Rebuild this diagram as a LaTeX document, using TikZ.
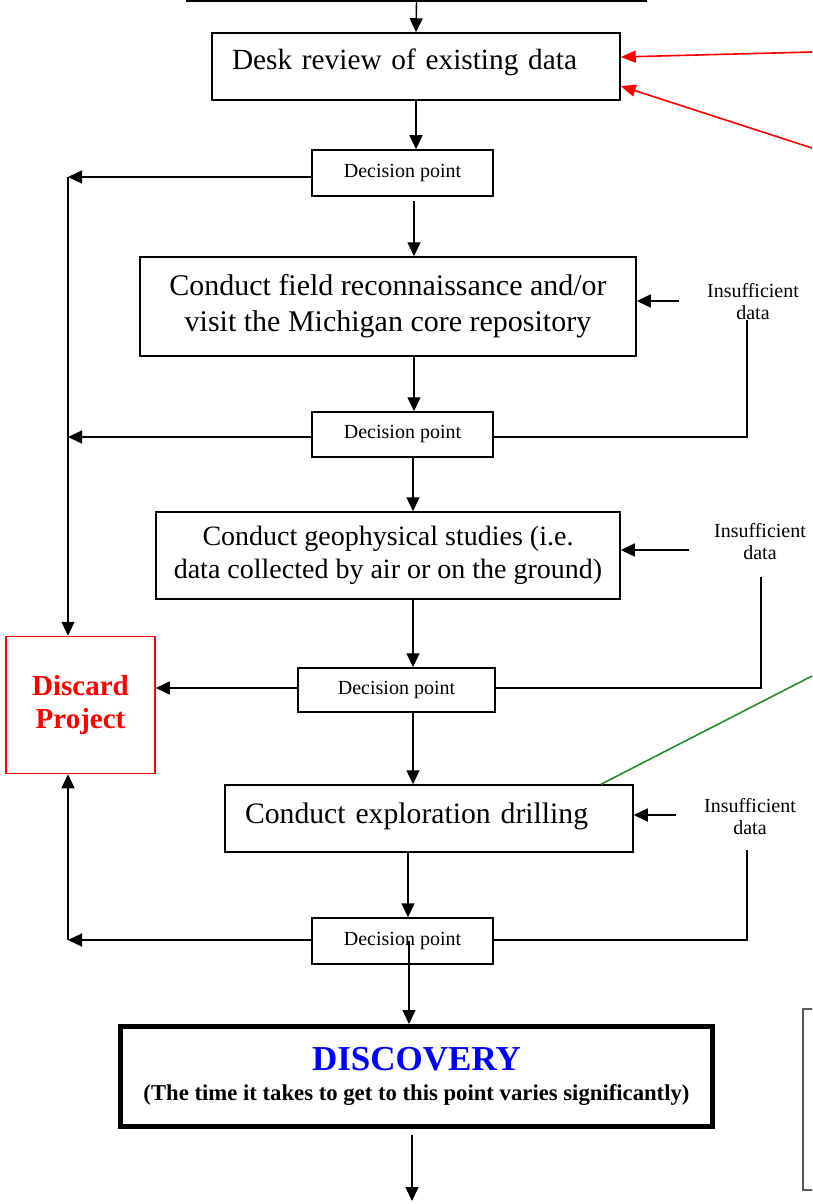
\documentclass[tikz,border=0pt]{standalone}
\usepackage{fontspec}
\setmainfont{Liberation Serif}
\usetikzlibrary{arrows.meta}
\definecolor{dgreen}{RGB}{40,140,40}
\begin{document}
\begin{tikzpicture}[x=1pt,y=-1pt,
  box/.style={draw=black, line width=1.5pt, inner sep=0pt, rectangle},
  dpoint/.style={box, font=\fontsize{20}{24}\selectfont},
  conn/.style={draw=black, line width=1.4pt},
  arr/.style={conn, -{Triangle[length=14pt,width=13pt]}},
  redarr/.style={draw=red, line width=1.6pt, -{Triangle[length=15pt,width=12pt]}},
  insuf/.style={align=center, inner sep=0pt, font=\fontsize{20}{22}\selectfont},
]
\useasboundingbox (0,0) rectangle (812,1204);
\clip (0,0) rectangle (812,1204);

% boxes
\node[box, minimum width=459pt, minimum height=62pt] (topbox) at (416.5,-30) {};
\node[box, minimum width=408pt, minimum height=67pt, text width=368pt, inner xsep=20pt,
      align=left, text height=20.5pt, text depth=13.5pt, font=\fontsize{29.3}{36}\selectfont]
      (desk) at (416,66.5) {Desk review of existing data};
\node[dpoint, minimum width=181pt, minimum height=46pt] (dec1) at (402.5,173) {Decision point};
\node[box, minimum width=496pt, minimum height=99pt, align=center, font=\fontsize{30}{36}\selectfont]
      (field) at (388,306.5) {Conduct field reconnaissance and/or\\visit the Michigan core repository};
\node[dpoint, minimum width=181pt, minimum height=45pt] (dec2) at (402.5,434.5) {Decision point};
\node[box, minimum width=464pt, minimum height=87pt, align=center, font=\fontsize{28}{33}\selectfont]
      (geo) at (388,555.5) {Conduct geophysical studies (i.e.\\data collected by air or on the ground)};
\node[dpoint, minimum width=197pt, minimum height=44pt] (dec3) at (396.5,690) {Decision point};
\node[box, draw=red, minimum width=149pt, minimum height=137pt, align=center, text=red,
      font=\fontsize{29}{33}\selectfont\bfseries] (discard) at (80.5,705) {Discard\\Project};
\node[box, minimum width=408pt, minimum height=67pt, text width=368pt, inner xsep=20pt,
      align=left, text height=20.5pt, text depth=11.5pt, font=\fontsize{29.7}{36}\selectfont]
      (expl) at (429,818.5) {Conduct exploration drilling};
\node[dpoint, minimum width=181pt, minimum height=46pt] (dec4) at (402.5,941) {Decision point};
\node[box, line width=5pt, minimum width=592pt, minimum height=100pt, align=center,
      font=\fontsize{22.7}{30}\selectfont\bfseries] (disc) at (416.5,1076.5)
      {{\fontsize{35}{35}\selectfont\color{blue}DISCOVERY}\\(The time it takes to get to this point varies significantly)};
\node[draw=gray!70!black, line width=1.2pt, inner sep=0pt, minimum width=97pt, minimum height=181pt] (rbox) at (851.5,1099.5) {};

% labels
\node[insuf] (ins1) at (753,302) {Insufficient\\data};
\node[insuf] (ins2) at (760,542) {Insufficient\\data};
\node[insuf] (ins3) at (750,817) {Insufficient\\data};

% coordinates
\coordinate (cA) at (414,0);
\coordinate (cB) at (413,0);
\coordinate (cC) at (408,0);
\coordinate (cD) at (409,0);
\coordinate (cE) at (412,0);
\coordinate (bot) at (412,1201);
\coordinate (L1) at (68,177);
\coordinate (L2) at (68,437);
\coordinate (L3) at (0,688);
\coordinate (L4) at (68,940);
\coordinate (R1) at (747,437);
\coordinate (R2) at (761,688);
\coordinate (R2t) at (761,577);
\coordinate (R3) at (747,940);
\coordinate (R3t) at (747,850);
\coordinate (T1) at (679,301);
\coordinate (T2) at (689,550);
\coordinate (T3) at (676,815);
\coordinate (RA) at (812,52);
\coordinate (RB) at (812,148);
\coordinate (GA) at (812,676);

% main flow
\draw[arr] (topbox.south) -- (desk.north);
\draw[arr] (desk.south) -- (desk.south |- dec1.north);
\draw[arr] (dec1.south -| cA) ++(0,4) -- (field.north -| cA);
\draw[arr] (field.south -| cA) -- (dec2.north -| cA);
\draw[arr] (dec2.south -| cB) -- (geo.north -| cB);
\draw[arr] (geo.south -| cB) -- (dec3.north -| cB);
\draw[arr] (dec3.south -| cB) -- (expl.north -| cB);
\draw[arr] (expl.south -| cC) -- (dec4.north -| cC);
\draw[arr] (dec4.center -| cD) -- (disc.north -| cD);
\draw[arr] (disc.south -| cE) ++(0,6) -- (bot);

% left side to discard
\draw[arr] (dec1.west |- L1) -- (L1);
\draw[arr] (L1) -- (L1 |- discard.north);
\draw[arr] (dec2.west |- L2) -- (L2);
\draw[arr] (dec3.west |- L3) -- (L3 -| discard.east);
\draw[arr] (dec4.west |- L4) -- (L4);
\draw[arr] (L4) -- (L4 |- discard.south);

% right side insufficient data loops
\draw[conn] (dec2.east |- R1) -- (R1) -- (R1 |- ins1.south);
\draw[conn] (dec3.east |- R2) -- (R2) -- (R2t);
\draw[conn] (dec4.east |- R3) -- (R3) -- (R3t);
\draw[arr] (T1) -- (T1 -| field.east);
\draw[arr] (T2) -- (T2 -| geo.east);
\draw[arr] (T3) -- (T3 -| expl.east);

% red and green lines
\draw[redarr] (RA) -- ([yshift=9.5pt]desk.east);
\draw[redarr] (RB) -- ([yshift=-19.5pt]desk.east);
\draw[dgreen, line width=1.6pt] (GA) -- ([xshift=172pt]expl.north);
\end{tikzpicture}
\end{document}
